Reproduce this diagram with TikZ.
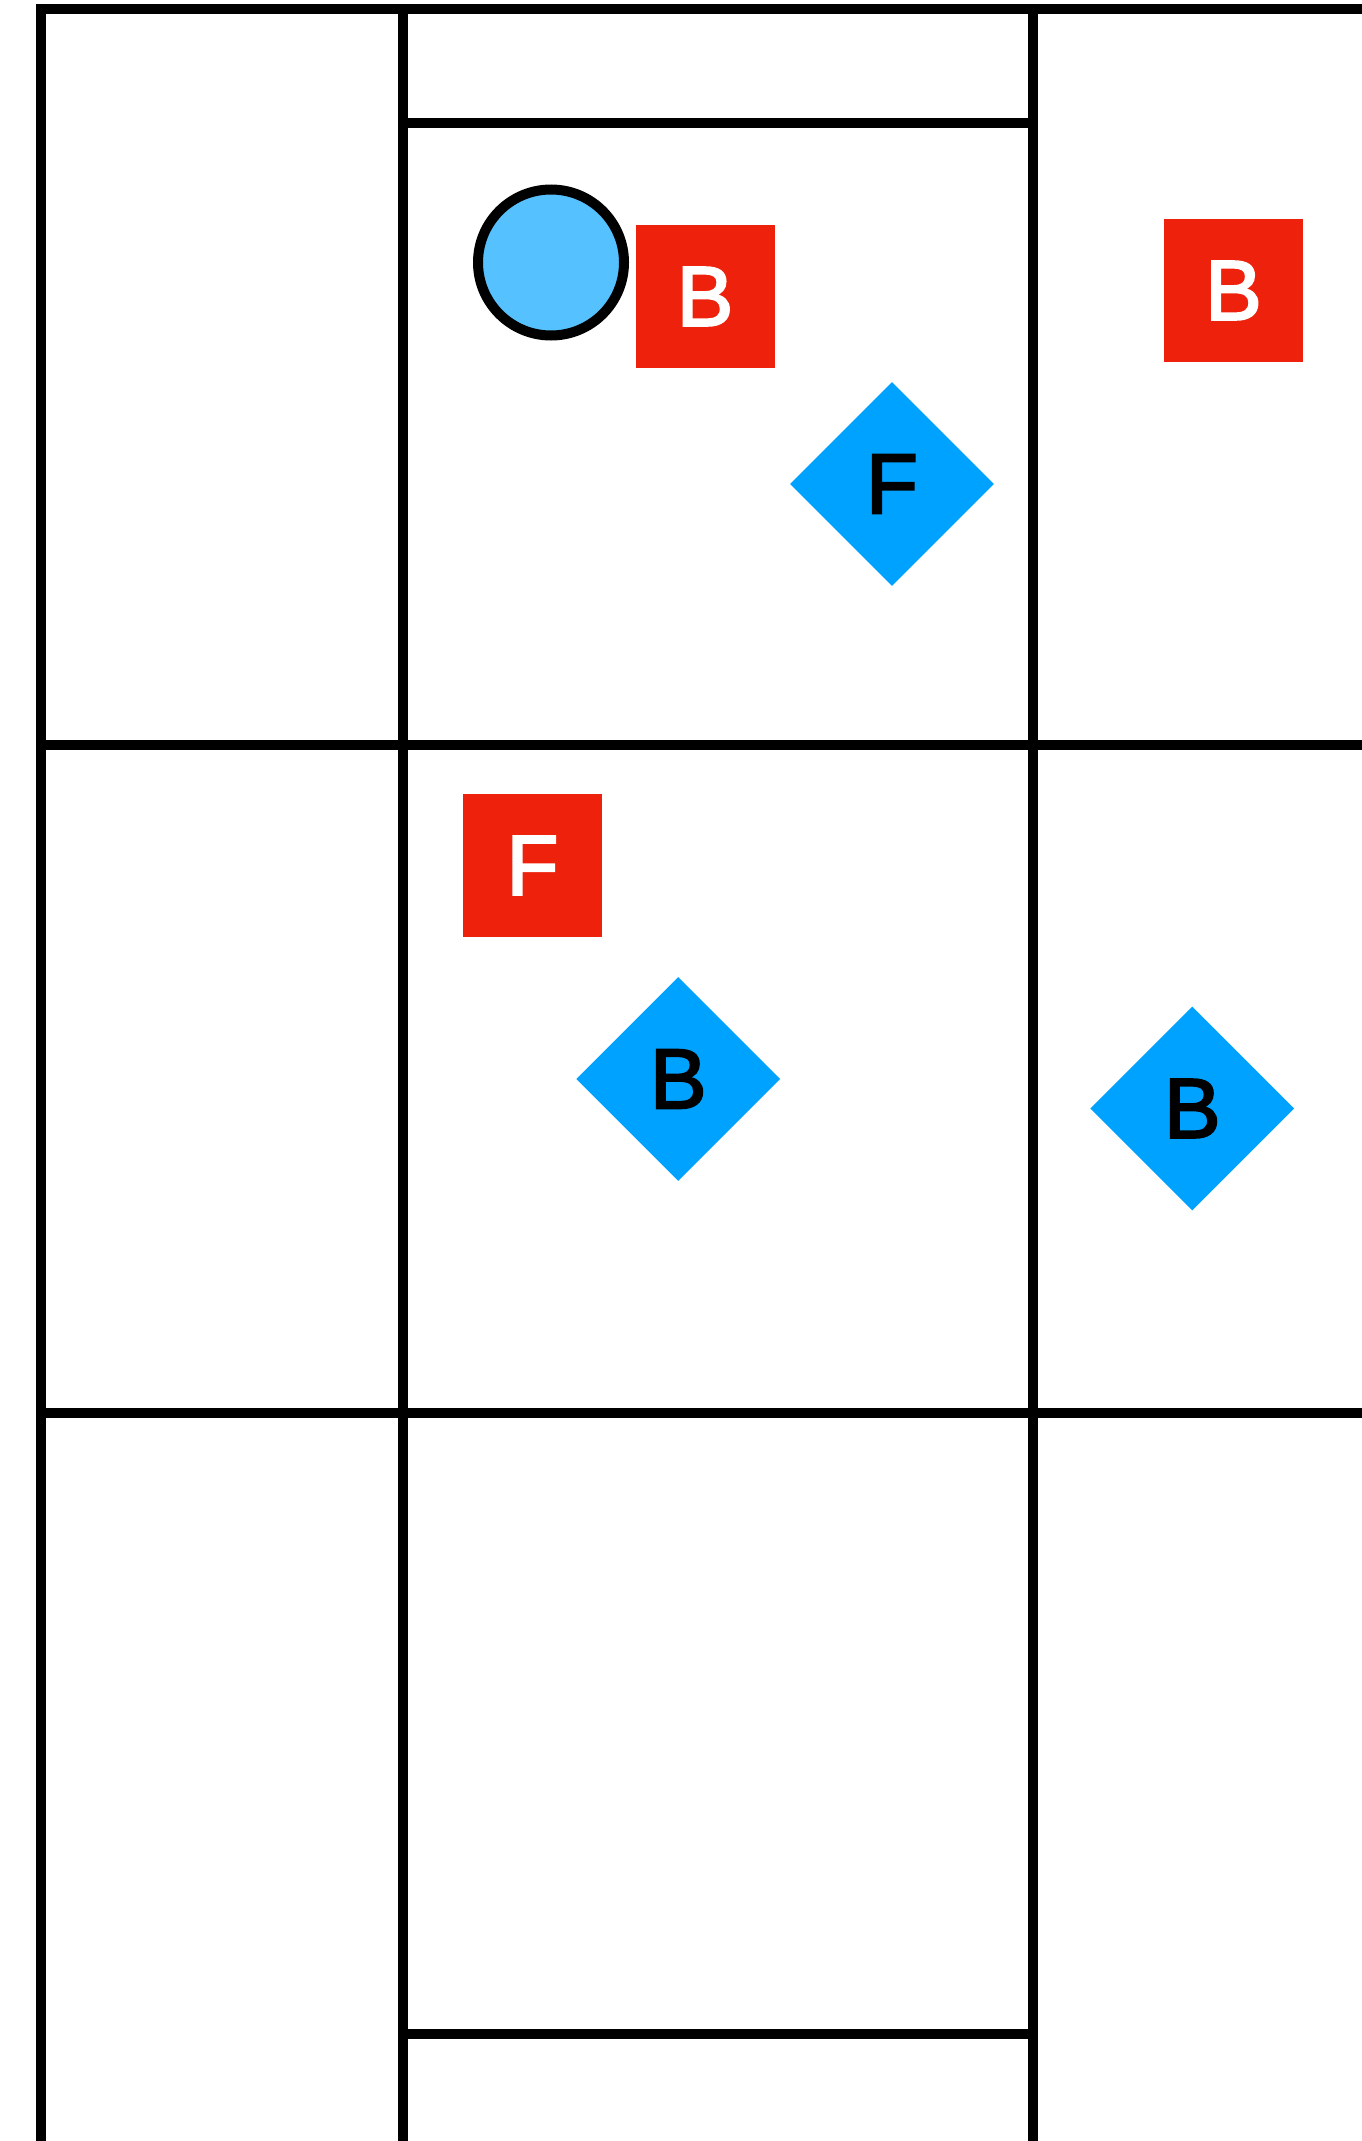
\documentclass[tikz,border=0pt]{standalone}
\usepackage{fontspec}
\newfontfamily\tilefont[FakeBold=2.5]{Liberation Sans}
\usepackage{xcolor}
\usepackage{tikz}
\usetikzlibrary{positioning,shapes.geometric}
\definecolor{tilered}{HTML}{EE220C}
\definecolor{tileblue}{HTML}{00A2FF}
\definecolor{ballblue}{HTML}{56C1FF}
\tikzset{
wall/.style={
draw=black,
line width=10pt,
line join=miter
},
redtile/.style={
rectangle,
fill=tilered,
minimum width=139pt,
minimum height=143pt,
inner sep=0pt,
text=white,
font=\tilefont\fontsize{85}{85}\selectfont
},
bluetile/.style={
diamond,
fill=tileblue,
minimum width=204pt,
minimum height=204pt,
inner sep=0pt,
text=black,
font=\tilefont\fontsize{85}{85}\selectfont
},
ball/.style={
circle,
draw=black,
line width=10pt,
fill=ballblue,
minimum size=146pt,
inner sep=0pt
}
}

\begin{document}
\begin{tikzpicture}[x=1pt,y=-1pt]
\useasboundingbox (0,0) rectangle (1362,2141);
% grid
\coordinate (tl) at (41,9.5);
\coordinate (tr) at (1362,9.5);
\coordinate (bl) at (41,2141);
\draw[wall](bl)--(tl)--(tr);
\foreach \x in {403,1033}
\draw[wall](\x,9.5)--(\x,2141);
\foreach \y in {745,1413}
\draw[wall](41,\y)--(1362,\y);
\foreach \y in {123,2034}
\draw[wall](403,\y)--(1033,\y);

% pieces
\node[ball](agent) at (551,262.5){};
\node[redtile](b1) at (705,296.5){B};
\node[redtile](b2) at (1233.5,290.5){B};
\node[bluetile](f1) at (892,484){F};
\node[redtile](f2) at (532.5,865.5){F};
\node[bluetile](b3) at (678.3,1079){B};
\node[bluetile](b4) at (1192.3,1108.5){B};
\end{tikzpicture}
\end{document}
